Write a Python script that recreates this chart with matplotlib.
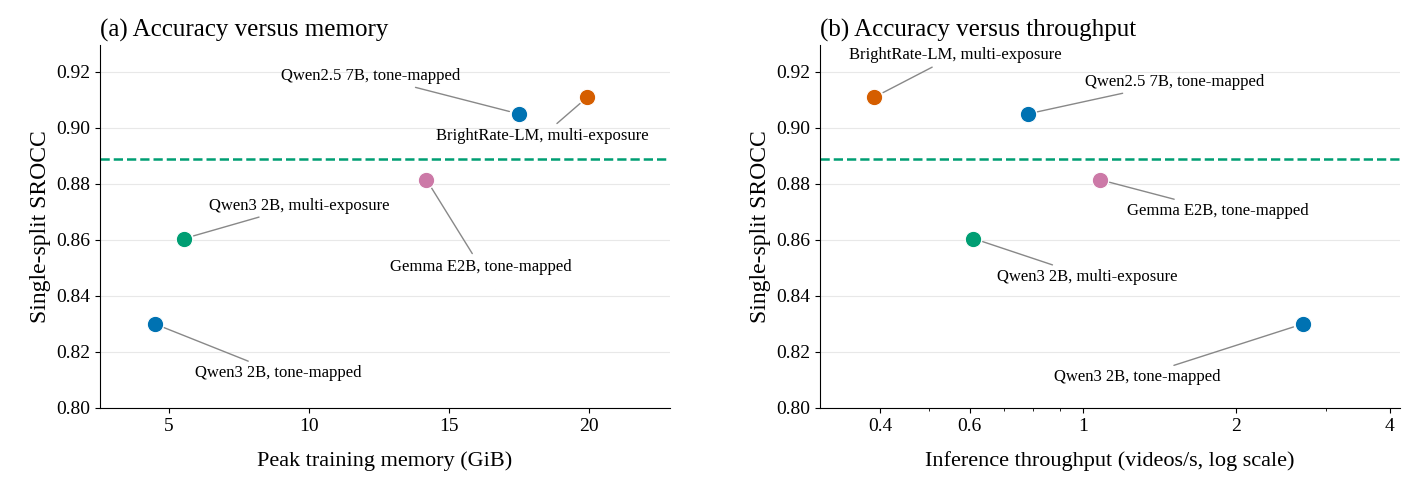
import matplotlib
matplotlib.use("Agg")
import matplotlib.pyplot as plt

plt.rcParams['font.family'] = ['Liberation Serif', 'DejaVu Serif']

labels = ["Qwen3 2B, tone-mapped", "Qwen3 2B, multi-exposure", "Gemma E2B, tone-mapped",
          "Qwen2.5 7B, tone-mapped", "BrightRate-LM, multi-exposure"]
memory = [4.5, 5.55, 14.2, 17.5, 19.95]
throughput = [2.7, 0.61, 1.08, 0.78, 0.39]
srocc = [0.830, 0.8605, 0.8815, 0.905, 0.911]
colors = ["#0072B2", "#009E73", "#CC79A7", "#0072B2", "#D55E00"]
baseline = 0.889

# text offsets in pixels (x right, y up)
off_a = [(123, -49), (115, 33), (54, -87), (-148, 38), (-45, -39)]
off_b = [(-165, -53), (114, -38), (118, -31), (147, 32), (81, 42)]

fig = plt.figure(figsize=(14.07, 4.92), dpi=100)
axA = fig.add_axes([100/1407, 84/492, 570/1407, 363/492])
axB = fig.add_axes([820/1407, 84/492, 580/1407, 363/492])

for ax, xs, offs in [(axA, memory, off_a), (axB, throughput, off_b)]:
    ax.axhline(baseline, color="#009E73", ls="--", lw=1.8, zorder=2)
    for x, y, c, l, o in zip(xs, srocc, colors, labels, offs):
        ax.scatter([x], [y], s=140, color=c, zorder=4, edgecolor="white", linewidth=0.8)
        ax.annotate(l, (x, y), xytext=o, textcoords="offset pixels", ha="center", va="center",
                    fontsize=12, arrowprops=dict(arrowstyle="-", color="#888888", lw=1,
                                                 shrinkA=2, shrinkB=7))
    ax.set_ylim(0.80, 0.9296)
    ax.set_yticks([0.80, 0.82, 0.84, 0.86, 0.88, 0.90, 0.92])
    ax.yaxis.grid(True, color="#e8e8e8", lw=0.8)
    ax.set_axisbelow(True)
    for s in ["top", "right"]:
        ax.spines[s].set_visible(False)
    ax.tick_params(labelsize=14)
    ax.set_ylabel("Single-split SROCC", fontsize=17)

axA.set_xlim(2.54, 22.9)
axA.set_xticks([5, 10, 15, 20])
axA.set_xlabel("Peak training memory (GiB)", fontsize=16, labelpad=12)
axA.set_title("(a) Accuracy versus memory", fontsize=18, loc="left", x=0.0)

axB.set_xscale("log")
axB.set_xlim(0.305, 4.19)
axB.set_xticks([0.4, 0.6, 1, 2, 4])
axB.set_xticklabels(["0.4", "0.6", "1", "2", "4"])
axB.set_xlabel("Inference throughput (videos/s, log scale)", fontsize=16, labelpad=12)
axB.set_title("(b) Accuracy versus throughput", fontsize=18, loc="left", x=0.0)

fig.savefig("out.png", dpi=100)
